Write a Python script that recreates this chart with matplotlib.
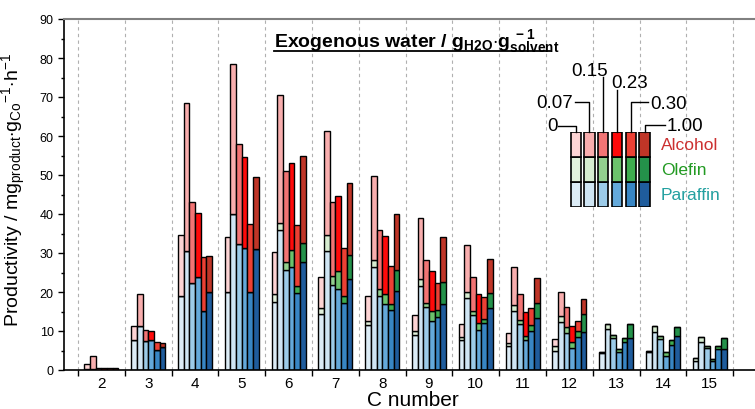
import numpy as np
import matplotlib
matplotlib.use('Agg')
import matplotlib.pyplot as plt

plt.rcParams['font.family'] = ['Liberation Sans', 'DejaVu Sans']
plt.rcParams['mathtext.fontset'] = 'custom'
plt.rcParams['mathtext.rm'] = 'Liberation Sans'
plt.rcParams['mathtext.bf'] = 'Liberation Sans:bold'
plt.rcParams['mathtext.it'] = 'Liberation Sans:italic'

# C numbers and exogenous water levels (g_H2O / g_solvent)
c_numbers = [2, 3, 4, 5, 6, 7, 8, 9, 10, 11, 12, 13, 14, 15]
water = ['0', '0.07', '0.15', '0.23', '0.30', '1.00']

# productivity per C number, one value per water level
paraffin = [
    [0.3, 0.3, 0.1, 0.1, 0.1, 0.1],
    [7.8, 11.4, 7.5, 7.7, 5.1, 5.8],
    [18.9, 30.6, 22.2, 23.8, 15.2, 20.1],
    [20.1, 40.0, 32.3, 31.2, 20.1, 31.0],
    [17.5, 35.9, 25.6, 26.5, 19.7, 27.6],
    [14.4, 30.6, 21.9, 20.8, 17.2, 23.3],
    [11.6, 26.3, 19.1, 16.8, 15.4, 20.2],
    [9.1, 21.6, 16.1, 12.5, 13.5, 16.8],
    [7.6, 18.4, 14.1, 10.3, 12.1, 15.8],
    [6.1, 15.2, 11.8, 7.8, 10.1, 13.3],
    [4.8, 12.2, 9.5, 5.6, 8.4, 9.8],
    [4.4, 10.5, 8.1, 4.5, 7.3, 8.2],
    [4.6, 9.7, 7.9, 3.7, 6.5, 8.8],
    [2.2, 7.1, 5.6, 2.2, 5.4, 5.4],
]
olefin = [
    [0, 0, 0, 0, 0, 0],
    [0, 0, 0, 0, 0, 0],
    [0, 0, 0, 0, 0, 0],
    [0, 0, 0, 0, 0, 0],
    [2.0, 1.7, 2.0, 4.3, 1.9, 4.9],
    [1.4, 4.0, 2.1, 4.7, 1.7, 6.3],
    [1.0, 1.8, 1.6, 2.8, 1.6, 5.5],
    [0.8, 1.7, 1.2, 2.7, 2.0, 5.8],
    [0.9, 1.5, 1.1, 1.7, 1.1, 3.9],
    [0.7, 1.5, 1.0, 0.8, 1.4, 3.9],
    [1.4, 1.7, 1.6, 1.7, 1.7, 4.6],
    [0.3, 1.3, 1.0, 0.9, 0.9, 3.6],
    [0.3, 1.5, 0.9, 0.8, 1.2, 2.3],
    [1.0, 1.3, 0.6, 0.6, 0.8, 2.8],
]
alcohol = [
    [1.2, 3.2, 0.3, 0.3, 0.3, 0.3],
    [3.4, 8.1, 2.8, 2.2, 2.0, 1.0],
    [15.7, 37.9, 20.8, 16.5, 13.8, 9.1],
    [13.9, 38.5, 25.6, 23.5, 17.3, 18.4],
    [10.7, 33.0, 23.3, 22.3, 15.7, 22.3],
    [8.1, 26.6, 19.0, 19.0, 12.3, 18.3],
    [6.3, 21.7, 15.2, 14.8, 9.6, 14.3],
    [4.3, 15.8, 11.0, 10.3, 6.8, 11.4],
    [3.4, 12.2, 8.7, 7.5, 5.6, 8.8],
    [2.7, 9.6, 6.7, 6.4, 4.3, 6.4],
    [1.7, 6.2, 5.0, 3.9, 2.5, 3.8],
    [0, 0, 0, 0, 0, 0],
    [0, 0, 0, 0, 0, 0],
    [0, 0, 0, 0, 0, 0],
]

par_col = ['#dcecf6', '#cfe5f3', '#9ccbe8', '#64a9da', '#3886c4', '#1f5c9c']
ole_col = ['#e2f1dc', '#d6ecd0', '#92cf8e', '#6cc26c', '#3fac4f', '#24914a']
alc_col = ['#fdd4d4', '#f8aeae', '#f27474', '#ff0a0a', '#ec4034', '#bf3527']

P = np.array(paraffin)
O = np.array(olefin)
A = np.array(alcohol)
x = np.array(c_numbers, dtype=float)
w = 0.121

fig = plt.figure(figsize=(7.55, 4.1), dpi=100)
ax = fig.add_axes([64/755, 39/410, 700/755, 351/410])

for b in np.arange(1.5, 16, 1.0):
    ax.axvline(b, color='#b0b0b0', ls=(0, (3, 3)), lw=0.8, zorder=0)

for i in range(6):
    xi = x + (i - 2.5) * w
    kw = dict(width=w, edgecolor='black', linewidth=1.0, zorder=2)
    ax.bar(xi, P[:, i], color=par_col[i], **kw)
    ax.bar(xi, O[:, i], bottom=P[:, i], color=ole_col[i], **kw)
    ax.bar(xi, A[:, i], bottom=P[:, i] + O[:, i], color=alc_col[i], **kw)

ax.set_xlim(1.2, 16.16)
ax.set_ylim(0, 90)
ax.set_yticks(range(0, 91, 10))
ax.set_yticks(range(5, 90, 10), minor=True)
ax.tick_params(axis='y', which='major', direction='out', length=4, width=1, labelsize=9)
ax.tick_params(axis='y', which='minor', direction='out', length=2, width=1)
ax.set_xticks(np.arange(1.5, 16, 1.0))
ax.set_xticklabels([])
ax.set_xticks(c_numbers, minor=True)
ax.set_xticklabels([str(c) for c in c_numbers], minor=True)
ax.tick_params(axis='x', which='major', direction='out', length=4, width=1)
ax.tick_params(axis='x', which='minor', length=0, labelsize=11, pad=4)
ax.spines['right'].set_visible(False)
ax.spines['top'].set_color('#808080')
ax.spines['top'].set_linewidth(1.5)
ax.spines['left'].set_linewidth(1.2)
ax.spines['bottom'].set_linewidth(1.2)

ax.set_xlabel('C number', fontsize=15)
ax.xaxis.set_label_coords((413 - 64) / 700, -(391 - 371) / 351)
ax.set_ylabel(r'Productivity / mg$_{\mathrm{product}}$$\cdot$g$_{\mathrm{Co}}$$^{-1}$$\cdot$h$^{-1}$',
              fontsize=14)
ax.yaxis.set_label_coords(-(64 - 28) / 700, (371 - 190) / 351)

title = ax.text((417 - 64) / 700, (371 - 42) / 351,
                r'$\mathbf{Exogenous\ water\ /\ g_{H2O}{\cdot}g_{solvent}^{\ -1}}$',
                transform=ax.transAxes, ha='center', va='center', fontsize=14)

# legend inset
lg = fig.add_axes([568.8/755, (410 - 207.7)/410, 82.6/755, 74.4/410])
lg.set_xlim(-0.5, 5.5)
lg.set_ylim(0, 3)
lg.axis('off')
for i in range(6):
    kw = dict(width=0.75, edgecolor='black', linewidth=1.2)
    lg.bar(i, 1, bottom=0, color=par_col[i], **kw)
    lg.bar(i, 1, bottom=1, color=ole_col[i], **kw)
    lg.bar(i, 1, bottom=2, color=alc_col[i], **kw)

lk = dict(color='black', lw=1.0, clip_on=False)
fs = 13.5
lg.plot([-1.25, 0, 0], [3.27, 3.27, 3.0], **lk)
lg.text(-1.33, 3.27, water[0], ha='right', va='center', fontsize=fs)
lg.plot([-0.05, 1, 1], [4.22, 4.22, 3.0], **lk)
lg.text(-0.2, 4.22, water[1], ha='right', va='center', fontsize=fs)
lg.plot([2, 2], [3.0, 5.25], **lk)
lg.text(1.04, 5.48, water[2], ha='center', va='center', fontsize=fs)
lg.plot([3, 3], [3.0, 4.7], **lk)
lg.text(3.93, 5.0, water[3], ha='center', va='center', fontsize=fs)
lg.plot([5.26, 4, 4], [4.22, 4.22, 3.0], **lk)
lg.text(5.4, 4.18, water[4], ha='left', va='center', fontsize=fs)
lg.plot([6.5, 5, 5], [3.29, 3.29, 3.0], **lk)
lg.text(6.61, 3.29, water[5], ha='left', va='center', fontsize=fs)

lg.text(6.18, 2.49, 'Alcohol', color='#cc3030', ha='left', va='center', fontsize=12.5)
lg.text(6.18, 1.49, 'Olefin', color='#229a22', ha='left', va='center', fontsize=12.5)
lg.text(6.18, 0.48, 'Paraffin', color='#23a0a0', ha='left', va='center', fontsize=12.5)

# underline the inset title
fig.canvas.draw()
bb = title.get_window_extent()
uy = 410 - 52
fig.add_artist(plt.Line2D([bb.x0 / 755, (bb.x1 - 10) / 755], [uy / 410, uy / 410],
                          color='black', lw=1.3))

fig.savefig('out.png', dpi=100)
